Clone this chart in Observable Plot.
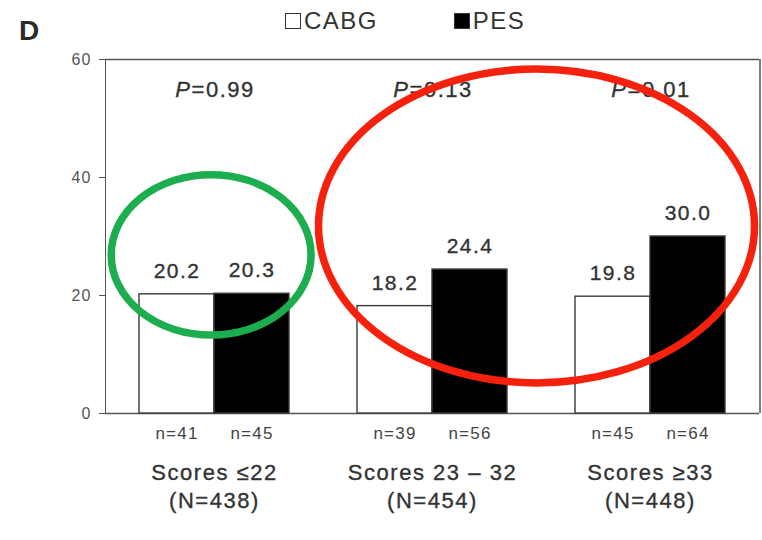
<!DOCTYPE html>
<html>
<head>
<meta charset="utf-8">
<script src="https://cdn.jsdelivr.net/npm/d3@7"></script>
<script src="https://cdn.jsdelivr.net/npm/@observablehq/plot@0.6"></script>
<style>
  html, body { margin: 0; padding: 0; background: #ffffff; }
  #wrap { position: relative; width: 762px; height: 540px; overflow: hidden; font-family: "Liberation Sans", Arial, Helvetica, sans-serif; }
  #wrap svg { position: absolute; left: 0; top: 0; }
  #wrap svg text { letter-spacing: 0.07em; }
  #panel { position: absolute; left: 19px; top: 15px; font-weight: bold; font-size: 28px; color: #2a2a2a; }
  #legend { position: absolute; top: 7px; left: 285px; display: flex; align-items: center; font-size: 24px; color: #333; letter-spacing: 0.06em; }
  .item { display: flex; align-items: center; }
  .sw { width: 14px; height: 14px; border: 1.5px solid #333; box-sizing: content-box; margin-right: 3px; }
</style>
</head>
<body>
<div id="wrap">
  <div id="chart"></div>
  <div id="panel">D</div>
  <div id="legend"></div>
</div>
<script>
// ---- data ----
const groups = ["Scores \u226422", "Scores 23 \u2013 32", "Scores \u226533"];
const totals = ["(N=438)", "(N=454)", "(N=448)"];
const series = ["CABG", "PES"];
const seriesColors = ["#ffffff", "#000000"];
const cabgValues = [20.2, 18.2, 19.8];
const pesValues = [20.3, 24.4, 30.0];
const cabgN = [41, 39, 45];
const pesN = [45, 56, 64];
const pValues = ["0.99", "0.13", "0.01"];
const yTicks = [0, 20, 40, 60];

// highlight ellipses (annotation): center in group units along the facet axis, y in data units
const highlights = [
  {color: "#1cae4e", cx: 0.49, cy: 26.8, rx: 0.457, ry: 13.6},
  {color: "#f5210d", cx: 1.978, cy: 31.7, rx: 0.997, ry: 26.6}
];

const rows = groups.flatMap((g, i) => [
  {group: g, series: "CABG", value: cabgValues[i], n: cabgN[i]},
  {group: g, series: "PES", value: pesValues[i], n: pesN[i]}
]);
const groupRows = groups.map((g, i) => ({group: g, total: totals[i], p: pValues[i]}));

const textColor = "#333";
const textStroke = {stroke: "#333", strokeWidth: 0.35};

const chart = Plot.plot({
  width: 762,
  height: 540,
  marginTop: 59,
  marginBottom: 127,
  marginLeft: 104,
  marginRight: 2,
  style: {fontFamily: "'Liberation Sans', Arial, Helvetica, sans-serif", fontSize: "16px", color: "#555", background: "transparent"},
  fx: {domain: groups, padding: 0, axis: null},
  x: {domain: series, paddingInner: 0, paddingOuter: 0.44, axis: null},
  y: {domain: [0, 60], ticks: yTicks, tickSize: 6, tickPadding: 8, line: true, label: null},
  color: {domain: series, range: seriesColors},
  marks: [
    Plot.ruleY([0, 60], {stroke: "#555", strokeWidth: 1.5}),
    Plot.barY(rows, {fx: "group", x: "series", y: "value", fill: "series", stroke: "#3a3a3a", strokeWidth: 1.4}),
    Plot.text(rows, {fx: "group", x: "series", y: "value", text: d => d.value.toFixed(1), dy: -23, fontSize: 21, fill: textColor, ...textStroke}),
    Plot.text(rows, {fx: "group", x: "series", y: 0, text: d => `n=${d.n}`, dy: 20, fontSize: 17, fill: "#444"}),
    Plot.text(groupRows, {fx: "group", y: 0, text: "group", dy: 59, fontSize: 22, fill: textColor, ...textStroke}),
    Plot.text(groupRows, {fx: "group", y: 0, text: "total", dy: 87, fontSize: 22, fill: textColor, ...textStroke}),
    Plot.text(groupRows, {fx: "group", frameAnchor: "top", text: () => "P", fontStyle: "italic", textAnchor: "end", dx: -23, dy: 22, fontSize: 22, fill: textColor, ...textStroke}),
    Plot.text(groupRows, {fx: "group", frameAnchor: "top", text: d => "=" + d.p, textAnchor: "start", dx: -23, dy: 22, fontSize: 22, fill: textColor, ...textStroke})
  ]
});
document.getElementById("chart").appendChild(chart);

// legend
const legend = document.getElementById("legend");
series.forEach((s, i) => {
  const item = document.createElement("div");
  item.className = "item";
  item.style.marginRight = i === 0 ? "76px" : "0";
  const sw = document.createElement("div");
  sw.className = "sw";
  sw.style.background = seriesColors[i];
  const lab = document.createElement("span");
  lab.textContent = s;
  item.appendChild(sw);
  item.appendChild(lab);
  legend.appendChild(item);
});

// right frame border and highlight ellipses, placed with the plot's own scales
const fxd = chart.scale("fx");
const yd = chart.scale("y");
const fx = d3.scaleBand(fxd.domain, fxd.range).paddingInner(fxd.paddingInner ?? 0).paddingOuter(fxd.paddingOuter ?? 0).align(fxd.align ?? 0.5);
const y = d3.scaleLinear(yd.domain, yd.range);
const svg = d3.select(chart);
const x0 = fx(groups[0]);
const bw = fx.step();
const xEnd = fx(groups[groups.length - 1]) + fx.bandwidth();
svg.append("line")
  .attr("x1", xEnd).attr("x2", xEnd)
  .attr("y1", y(0)).attr("y2", y(60))
  .attr("stroke", "#555").attr("stroke-width", 1.5);
const pxPerUnit = Math.abs(y(0) - y(1));
svg.selectAll("ellipse.hl").data(highlights).join("ellipse")
  .attr("class", "hl")
  .attr("cx", d => x0 + d.cx * bw)
  .attr("cy", d => y(d.cy))
  .attr("rx", d => d.rx * bw)
  .attr("ry", d => d.ry * pxPerUnit)
  .attr("fill", "none")
  .attr("stroke", d => d.color)
  .attr("stroke-width", 7.5);
</script>
</body>
</html>
